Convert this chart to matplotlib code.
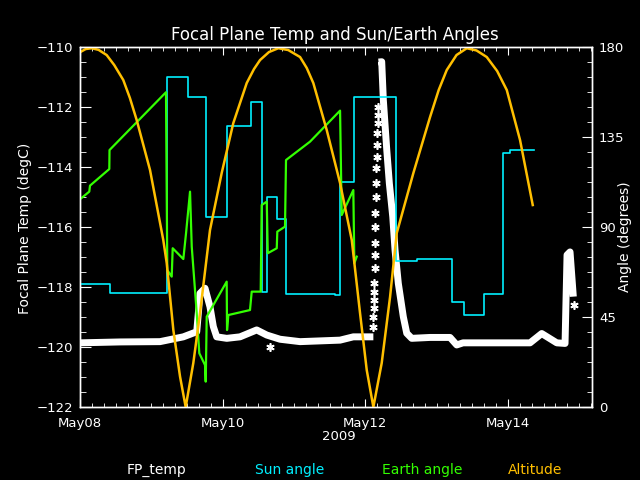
import numpy as np
import matplotlib
matplotlib.use("Agg")
import matplotlib.pyplot as plt
import matplotlib.dates as mdates
from matplotlib.ticker import MultipleLocator

# days since 2009-05-08 00:00
alt_days = [0.000, 0.080, 0.164, 0.260, 0.374, 0.480, 0.607, 0.700, 0.795, 0.982, 1.168,
            1.216, 1.309, 1.403, 1.482, 1.589, 1.683, 1.823, 1.987, 2.150, 2.338, 2.440,
            2.525, 2.650, 2.781, 2.920, 3.086, 3.180, 3.272, 3.460, 3.647, 3.811, 3.927,
            4.021, 4.114, 4.231, 4.348, 4.442, 4.675, 4.909, 5.030, 5.143, 5.280, 5.424,
            5.560, 5.704, 5.850, 5.985, 6.171, 6.349]
alt_vals = [177.4, 179.0, 179.4, 178.6, 176.0, 171.0, 163.5, 154.5, 143.5, 118.5, 83.5,
            72.0, 38.5, 15.2, 0.0, 22.0, 47.0, 88.5, 117.0, 142.0, 162.0, 169.0,
            173.5, 177.5, 179.4, 178.5, 175.0, 169.5, 162.0, 138.5, 112.0, 83.5, 47.0,
            18.5, 0.0, 22.0, 55.0, 87.0, 117.0, 145.0, 158.5, 168.5, 176.0, 179.4,
            178.3, 175.0, 168.0, 158.5, 133.5, 101.0]

sun_days = [0.0, 0.421, 1.224, 1.519, 1.767, 2.066, 2.394, 2.548, 2.627, 2.767, 2.889,
            3.576, 3.647, 3.847, 4.432, 4.722, 5.222, 5.390, 5.670, 5.926, 6.030, 6.367]
sun_vals = [61.5, 57.0, 165.2, 155.2, 95.2, 140.5, 152.7, 57.7, 104.9, 93.8, 56.5,
            55.8, 112.7, 155.2, 73.2, 74.0, 52.7, 46.0, 56.4, 126.9, 128.5, 128.5]

earth_days = [0.000, 0.130, 0.140, 0.411, 0.414, 1.206, 1.224, 1.286, 1.300, 1.449, 1.487,
              1.543, 1.567, 1.637, 1.673, 1.753, 1.763, 1.777, 2.057, 2.062, 2.080, 2.384,
              2.408, 2.534, 2.548, 2.619, 2.633, 2.759, 2.767, 2.875, 2.889, 3.226, 3.647,
              3.670, 3.833, 3.847, 3.881]
earth_vals = [103.9, 107.7, 110.7, 119.0, 128.5, 157.4, 68.5, 65.2, 79.4, 74.0, 86.9,
              107.7, 80.2, 46.9, 26.9, 21.0, 12.7, 45.2, 62.7, 38.5, 46.0, 48.5,
              57.7, 57.7, 101.0, 102.7, 76.9, 79.4, 87.7, 90.2, 123.5, 132.7, 148.2,
              96.0, 108.5, 71.9, 75.2]

# focal plane temperature, dense part (nan = gap during fast rise)
fp_days = [0.000, 0.561, 1.122, 1.449, 1.637, 1.683, 1.753, 1.823, 1.870, 1.917, 2.058,
           2.244, 2.478, 2.619, 2.805, 3.086, 3.647, 3.833, 4.114, np.nan,
           4.186, 4.231, 4.254, 4.302, 4.338, 4.386, 4.418, 4.464, 4.534, 4.582, 4.652,
           4.909, 5.189, 5.283, 5.372, 6.311, 6.475, 6.686, 6.802, 6.830, 6.872, 6.918]
fp_vals = [-119.86, -119.83, -119.82, -119.66, -119.49, -118.21, -118.04, -118.66, -119.32,
           -119.66, -119.71, -119.66, -119.43, -119.60, -119.74, -119.82, -119.77, -119.66,
           -119.66, np.nan,
           -110.50, -110.49, -111.77, -113.43, -114.54, -115.66, -116.77, -117.88, -118.99,
           -119.54, -119.71, -119.68, -119.68, -119.93, -119.86, -119.86, -119.55, -119.86,
           -119.88, -116.93, -116.83, -118.32]
# sparse samples on the rising edge near May12 plus a few strays
fp_pts_days = [4.184, 4.175, 4.175, 4.170, 4.170, 4.161, 4.151, 4.151, 4.147, 4.142, 4.142,
               4.137, 4.137, 4.133, 4.128, 4.123, 4.119, 4.119, 4.114, 4.114, 2.665, 6.933]
fp_pts_vals = [-111.99, -112.27, -112.54, -112.88, -113.27, -113.66, -114.04, -114.54,
               -114.99, -115.52, -115.99, -116.52, -116.93, -117.38, -117.88, -118.16,
               -118.43, -118.71, -118.99, -119.32, -120.01, -118.60]

t0 = np.datetime64("2009-05-08T00:00:00")


def to_time(days):
    d = np.asarray(days, dtype=float)
    out = np.full(d.shape, np.datetime64("NaT"), dtype="datetime64[s]")
    ok = ~np.isnan(d)
    out[ok] = t0 + (d[ok] * 86400).astype("timedelta64[s]")
    return out


ORANGE = "#FFBF00"
CYAN = "#00F0FF"
GREEN = "#33FF00"

plt.rcParams["font.family"] = "DejaVu Sans"
fig = plt.figure(figsize=(6.4, 4.8), dpi=100, facecolor="black")
ax = fig.add_axes([0.125, 0.152, 0.8, 0.75], facecolor="black")
ax2 = ax.twinx()

ax.plot(to_time(fp_days), fp_vals, color="white", lw=5, solid_capstyle="butt")
ax.plot(to_time(fp_pts_days), fp_pts_vals, ls="none", marker=(6, 2, 0), ms=6,
        mec="white", mew=1.2)

ax2.step(to_time(sun_days), sun_vals, where="post", color=CYAN, lw=1.2)
ax2.plot(to_time(earth_days), earth_vals, color=GREEN, lw=1.6)
ax2.plot(to_time(alt_days), alt_vals, color=ORANGE, lw=1.8)

ax.set_xlim(to_time([0.0])[0], to_time([7.18])[0])
ax.set_ylim(-122, -110)
ax2.set_ylim(0, 180)

ax.xaxis.set_major_locator(mdates.DayLocator(bymonthday=[8, 10, 12, 14]))
ax.xaxis.set_minor_locator(mdates.HourLocator(byhour=[0, 4, 8, 12, 16, 20]))
ax.xaxis.set_major_formatter(mdates.DateFormatter("%b%d"))
ax.yaxis.set_major_locator(MultipleLocator(2))
ax.yaxis.set_minor_locator(MultipleLocator(0.5))
ax2.yaxis.set_major_locator(MultipleLocator(45))
ax2.yaxis.set_minor_locator(MultipleLocator(7.5))

for a in (ax, ax2):
    for s in a.spines.values():
        s.set_color("white")
        s.set_linewidth(1)
ax.tick_params(axis="x", which="both", direction="in", colors="white", top=True,
               labelsize=9.5, pad=7)
ax.tick_params(axis="x", which="major", length=6)
ax.tick_params(axis="x", which="minor", length=3)
ax.tick_params(axis="y", which="both", direction="in", colors="white", right=False,
               labelsize=9.5, pad=5)
ax.tick_params(axis="y", which="major", length=8)
ax.tick_params(axis="y", which="minor", length=4)
ax2.tick_params(axis="y", which="both", direction="in", colors="white",
                labelsize=9.5, pad=5)
ax2.tick_params(axis="y", which="major", length=7)
ax2.tick_params(axis="y", which="minor", length=3.5)

fig.text(0.524, 0.927, "Focal Plane Temp and Sun/Earth Angles", color="white",
         fontsize=12, ha="center", va="center")
fig.text(0.039, 0.525, "Focal Plane Temp (degC)", color="white", fontsize=10,
         rotation=90, ha="center", va="center")
fig.text(0.977, 0.506, "Angle (degrees)", color="white", fontsize=10,
         rotation=90, ha="center", va="center")
fig.text(0.53, 0.09, "2009", color="white", fontsize=9.5, ha="center", va="center")

legend_names = ["FP_temp", "Sun angle", "Earth angle", "Altitude"]
legend_colors = ["white", CYAN, GREEN, ORANGE]
legend_x = [0.245, 0.452, 0.659, 0.836]
for name, c, x in zip(legend_names, legend_colors, legend_x):
    fig.text(x, 0.021, name, color=c, fontsize=10, ha="center", va="center")

fig.savefig("out.png", dpi=100, facecolor="black")
